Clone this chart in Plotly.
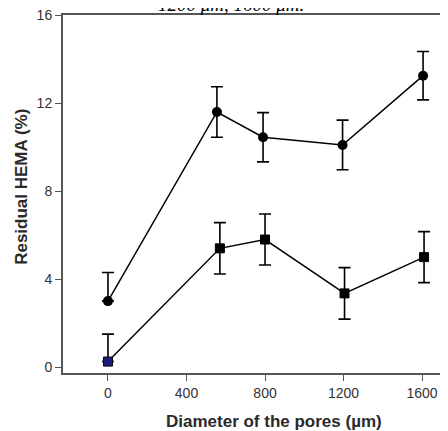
import plotly.graph_objects as go

# Data
x_circle = [0, 555, 790, 1195, 1605]
y_circle = [3.0, 11.6, 10.45, 10.1, 13.25]
err_circle_plus = [1.3, 1.15, 1.12, 1.13, 1.1]
err_circle_minus = [0, 1.15, 1.12, 1.13, 1.1]

x_square = [0, 570, 800, 1205, 1610]
y_square = [0.25, 5.4, 5.8, 3.35, 5.0]
err_square_plus = [1.25, 1.17, 1.16, 1.17, 1.16]
err_square_minus = [0, 1.17, 1.16, 1.17, 1.16]

x_ticks = [0, 400, 800, 1200, 1600]
y_ticks = [0, 4, 8, 12, 16]

fig = go.Figure()

fig.add_trace(go.Scatter(
    x=x_circle, y=y_circle, mode="lines+markers",
    line=dict(color="black", width=1.5),
    marker=dict(symbol="circle", size=10, color="black"),
    error_y=dict(type="data", array=err_circle_plus, arrayminus=err_circle_minus,
                 symmetric=False, color="black", thickness=1.6, width=6),
    showlegend=False, cliponaxis=False,
))

square_colors = ["#1c1c7a"] + ["black"] * (len(x_square) - 1)
fig.add_trace(go.Scatter(
    x=x_square, y=y_square, mode="lines+markers",
    line=dict(color="black", width=1.5),
    marker=dict(symbol="square", size=9, color=square_colors,
                line=dict(color="black", width=1)),
    error_y=dict(type="data", array=err_square_plus, arrayminus=err_square_minus,
                 symmetric=False, color="black", thickness=1.6, width=6),
    showlegend=False, cliponaxis=False,
))

axis_font = dict(family="Liberation Sans, Arial, sans-serif", size=14, color="#333333")

fig.update_layout(
    width=440, height=423,
    margin=dict(l=55, r=0, t=7, b=58),
    paper_bgcolor="white", plot_bgcolor="white",
    xaxis=dict(
        range=[-229, 1732], tickvals=x_ticks, ticktext=[str(v) for v in x_ticks],
        showline=True, linecolor="#555555", linewidth=2, mirror=True,
        ticks="outside", ticklen=6, tickwidth=1.2, tickcolor="#555555",
        showgrid=False, zeroline=False, tickfont=axis_font,
        ticklabeloverflow="allow",
    ),
    yaxis=dict(
        range=[-0.27, 16.01], tickvals=y_ticks, ticktext=[str(v) for v in y_ticks],
        showline=True, linecolor="#555555", linewidth=2,
        ticks="outside", ticklen=6, tickwidth=1.2, tickcolor="#555555",
        showgrid=False, zeroline=False, tickfont=axis_font,
        ticklabeloverflow="allow",
    ),
    annotations=[
        dict(text="<b>Residual HEMA (%)</b>", xref="paper", yref="paper",
             x=-41 / 385, y=0.52, xanchor="center", yanchor="middle",
             textangle=-90, showarrow=False,
             font=dict(family="Liberation Sans, Arial, sans-serif", size=17, color="#2a2a2a")),
        dict(text="<b>Diameter of the pores (µm)</b>", xref="paper", yref="paper",
             x=(274 - 63) / 385, y=-(421 - 373) / 358, xanchor="center", yanchor="middle",
             showarrow=False,
             font=dict(family="Liberation Sans, Arial, sans-serif", size=17, color="#2a2a2a")),
        dict(text="<i>1200 μm, 1600 μm.</i>", xref="paper", yref="paper",
             x=(231 - 63) / 385, y=1 + 10 / 358, xanchor="center", yanchor="middle",
             showarrow=False,
             font=dict(family="Liberation Serif, Times New Roman, serif", size=19, color="black")),
    ],
)

fig.write_html("out.html")
